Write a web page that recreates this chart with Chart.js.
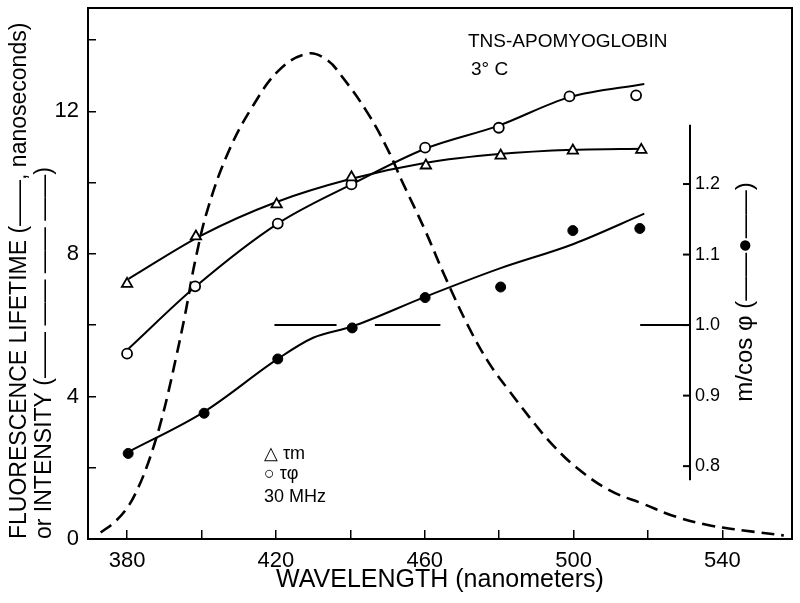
<!DOCTYPE html>
<html><head><meta charset="utf-8">
<script src="https://cdn.jsdelivr.net/npm/chart.js@4/dist/chart.umd.min.js"></script>
<style>html,body{margin:0;padding:0;background:#fff}#wrap{width:800px;height:603px;position:relative}</style>
</head><body><div id="wrap"><canvas id="c" width="800" height="603" style="width:800px;height:603px"></canvas></div>
<script>
// ---- data ----
const TAU_M_X = [380, 398.5, 420.2, 440.3, 460.3, 480.4, 499.8, 518.2];
const TAU_M_Y = [7.16, 8.49, 9.39, 10.15, 10.48, 10.76, 10.90, 10.92];
const TAU_P_X = [380, 398.3, 420.5, 440.3, 460.1, 479.9, 498.9, 516.8];
const TAU_P_Y = [5.20, 7.09, 8.85, 9.95, 10.98, 11.54, 12.42, 12.45];
const MCOS_X = [380.3, 400.7, 420.5, 440.5, 460.1, 480.4, 499.8, 517.8];
const MCOS_Y = [0.818, 0.875, 0.952, 0.996, 1.039, 1.054, 1.134, 1.137];
// hand-drawn fitted curves
const FIT_M_X = [380.4, 400, 420, 440, 460, 480, 500, 519];
const FIT_M_Y = [7.30, 8.52, 9.45, 10.10, 10.55, 10.80, 10.92, 10.95];
const FIT_P_X = [380.4, 398.5, 420.5, 440.3, 460.1, 479.9, 498.9, 519];
const FIT_P_Y = [5.34, 7.09, 8.85, 9.95, 10.95, 11.60, 12.40, 12.77];
const FIT_MC_X = [380.3, 400.7, 420.5, 430, 440.5, 460.1, 480, 500, 519];
const FIT_MC_Y = [0.820, 0.877, 0.952, 0.982, 0.998, 1.040, 1.080, 1.115, 1.158];
// reference line m/cos phi = 1.0 (broken)
const REF_X = [419.6, 436.3, 441.5, 446.6, 464.2, 491.0, 517.9, 531.3];
const REF_Y = [1, 1, null, 1, 1, null, 1, 1];
// fluorescence intensity (dashed)
const INT_X = [372.9, 376.7, 380.2, 382.9, 385.2, 387.4, 389.2, 391.0, 393.2, 395.6, 398.3, 401.8, 407.4, 413.8, 421, 428.5, 433.6, 437.6, 444.8, 450.2, 453.8, 460.1, 465.5, 471.8, 477.2, 482.6, 489.8, 494.3, 500.6, 509.6, 518.6, 527.6, 536.7, 545.7, 556.5];
const INT_Y = [0.18, 0.48, 0.90, 1.42, 2.00, 2.68, 3.33, 4.08, 5.11, 6.30, 7.80, 9.30, 10.90, 12.15, 13.17, 13.62, 13.45, 13.00, 11.93, 10.9, 10.06, 8.66, 7.35, 5.95, 4.95, 4.17, 3.20, 2.65, 2.02, 1.37, 0.99, 0.62, 0.38, 0.24, 0.10];
// ticks
const X_TICKS = [380, 400, 420, 440, 460, 480, 500, 520, 540];
const Y_TICKS = [0, 2, 4, 6, 8, 10, 12, 14];
const R_TICKS = [0.8, 0.9, 1.0, 1.1, 1.2];
const R_AXIS_RANGE = [0.78, 1.284];
const R_AXIS_AT = 531.3;
// texts
const Y_TITLE = ['FLUORESCENCE LIFETIME (——, nanoseconds)', 'or INTENSITY (—— —— —— ——)'];
const X_TITLE = 'WAVELENGTH (nanometers)';
const R_TITLE = 'm/cos φ (——●——)';
const NOTE_1 = 'TNS-APOMYOGLOBIN';
const NOTE_2 = '3° C';
const LEGEND = ['△ τm', '○ τφ', '30 MHz'];

const FONT = "'Liberation Sans', Arial, sans-serif";
const pts = (xs, ys) => xs.map((x, i) => ({x, y: ys[i]}));

const extras = {
  id: 'extras',
  afterDraw(chart) {
    const {ctx, chartArea: a, scales: {x, y1}} = chart;
    ctx.save();
    ctx.strokeStyle = '#000';
    ctx.fillStyle = '#000';
    ctx.lineWidth = 2;
    ctx.strokeRect(a.left, a.top, a.right - a.left, a.bottom - a.top);
    // inner m/cos phi axis
    const ax = Math.round(x.getPixelForValue(R_AXIS_AT));
    ctx.beginPath();
    ctx.moveTo(ax, y1.getPixelForValue(R_AXIS_RANGE[0]));
    ctx.lineTo(ax, y1.getPixelForValue(R_AXIS_RANGE[1]));
    ctx.stroke();
    ctx.font = '18px ' + FONT;
    ctx.textAlign = 'left';
    ctx.textBaseline = 'middle';
    R_TICKS.forEach(v => {
      const py = y1.getPixelForValue(v);
      ctx.beginPath(); ctx.moveTo(ax - 7, py); ctx.lineTo(ax, py); ctx.stroke();
      ctx.fillText(v.toFixed(1), ax + 5, py);
    });
    // right title
    ctx.save();
    ctx.translate(745, 292);
    ctx.rotate(-Math.PI / 2);
    ctx.textAlign = 'center';
    ctx.font = '24px ' + FONT;
    ctx.fillText(R_TITLE, 0, 0);
    ctx.restore();
    // annotations
    ctx.textAlign = 'left';
    ctx.textBaseline = 'alphabetic';
    ctx.font = '19px ' + FONT;
    ctx.fillText(NOTE_1, 468, 47);
    ctx.fillText(NOTE_2, 471, 75);
    ctx.font = '18px ' + FONT;
    ctx.fillText(LEGEND[0], 264, 459);
    ctx.fillText(LEGEND[1], 264, 479);
    ctx.fillText(LEGEND[2], 264, 502);
    ctx.restore();
  }
};

new Chart(document.getElementById('c'), {
  type: 'scatter',
  data: {
    datasets: [
      {data: pts(TAU_M_X, TAU_M_Y), yAxisID: 'y', pointStyle: 'triangle', pointRadius: 6, backgroundColor: '#fff', borderColor: '#000', borderWidth: 1.8, showLine: false},
      {data: pts(TAU_P_X, TAU_P_Y), yAxisID: 'y', pointStyle: 'circle', pointRadius: 5, backgroundColor: '#fff', borderColor: '#000', borderWidth: 1.8, showLine: false},
      {data: pts(MCOS_X, MCOS_Y), yAxisID: 'y1', pointStyle: 'circle', pointRadius: 5, backgroundColor: '#000', borderColor: '#000', borderWidth: 1, showLine: false},
      {data: pts(FIT_M_X, FIT_M_Y), yAxisID: 'y', showLine: true, pointRadius: 0, borderColor: '#000', borderWidth: 2, cubicInterpolationMode: 'monotone'},
      {data: pts(FIT_P_X, FIT_P_Y), yAxisID: 'y', showLine: true, pointRadius: 0, borderColor: '#000', borderWidth: 2, cubicInterpolationMode: 'monotone'},
      {data: pts(FIT_MC_X, FIT_MC_Y), yAxisID: 'y1', showLine: true, pointRadius: 0, borderColor: '#000', borderWidth: 2, cubicInterpolationMode: 'monotone'},
      {data: pts(REF_X, REF_Y), yAxisID: 'y1', showLine: true, spanGaps: false, pointRadius: 0, borderColor: '#000', borderWidth: 2},
      {data: pts(INT_X, INT_Y), yAxisID: 'y', showLine: true, pointRadius: 0, borderColor: '#000', borderWidth: 2.6, borderDash: [13, 7], tension: 0.4}
    ]
  },
  options: {
    responsive: false,
    animation: false,
    devicePixelRatio: 1,
    layout: {padding: {top: 8, right: 8, left: 0, bottom: 0}},
    plugins: {legend: {display: false}, tooltip: {enabled: false}},
    scales: {
      x: {
        type: 'linear', min: 369.5, max: 558.7,
        afterBuildTicks: s => { s.ticks = X_TICKS.map(v => ({value: v})); },
        afterFit: s => { s.height = 64; s.paddingLeft = 0; s.paddingRight = 0; },
        grid: {drawOnChartArea: false, color: '#000', tickColor: '#000', tickLength: -9, lineWidth: 1.5},
        border: {color: '#000', width: 2},
        ticks: {color: '#000', padding: 18, maxRotation: 0, autoSkip: false, font: {family: FONT, size: 22},
          callback: v => ((v - 380) % 40 === 0 ? String(v) : '')},
        title: {display: true, text: X_TITLE, color: '#000', font: {family: FONT, size: 25}, padding: {top: 0, bottom: 8}}
      },
      y: {
        type: 'linear', min: 0, max: 14.9, position: 'left',
        afterBuildTicks: s => { s.ticks = Y_TICKS.map(v => ({value: v})); },
        afterFit: s => { s.width = 88; s.paddingTop = 0; s.paddingBottom = 0; },
        grid: {drawOnChartArea: false, color: '#000', tickColor: '#000', tickLength: -8, lineWidth: 1.5},
        border: {color: '#000', width: 2},
        ticks: {color: '#000', padding: 17, autoSkip: false, font: {family: FONT, size: 22},
          callback: v => (v % 4 === 0 ? String(v) : '')},
        title: {display: true, text: Y_TITLE, align: 'start', color: '#000', font: {family: FONT, size: 23, lineHeight: 1.1}, padding: {top: 7, bottom: 0}}
      },
      y1: {
        type: 'linear', min: 0.6967, max: 1.4496, display: false
      }
    }
  },
  plugins: [extras]
});
</script>
</body></html>
